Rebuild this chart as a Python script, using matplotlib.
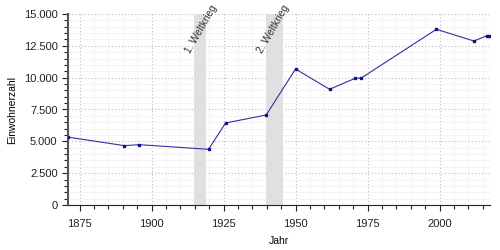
import matplotlib.pyplot as plt
from matplotlib.ticker import MultipleLocator, FuncFormatter

plt.rcParams['font.family'] = ['Liberation Sans', 'DejaVu Sans']

# Stichtage als Dezimaljahre
jahre = [1871.0, 1890.6, 1895.6, 1919.8, 1925.7, 1939.8, 1950.0, 1961.8,
         1970.7, 1972.8, 1998.9, 2011.9, 2016.3, 2017.2]
einwohner = [5330, 4660, 4740, 4375, 6440, 7070, 10680, 9090,
             9950, 9970, 13800, 12880, 13280, 13250]

kriege = [(1914.8, 1918.9, "1. Weltkrieg"), (1939.8, 1945.5, "2. Weltkrieg")]

fig = plt.figure(figsize=(5, 2.5), dpi=100)
ax = fig.add_axes([0.136, 0.18, 0.844, 0.764])

for a, b, name in kriege:
    ax.axvspan(a, b, color='#e0e0e0', lw=0, zorder=1)
    ax.text(a - 0.8, 11800, name, rotation=60, fontsize=7.4, color='#333333',
            ha='left', va='bottom', rotation_mode='anchor', clip_on=False)

ax.plot(jahre, einwohner, color='#3030a0', lw=0.8, marker='s', ms=2,
        markerfacecolor='#10108a', markeredgecolor='#10108a', zorder=3)

ax.set_xlim(1871, 2017.5)
ax.set_ylim(0, 15000)
ax.xaxis.set_major_locator(MultipleLocator(25))
ax.xaxis.set_minor_locator(MultipleLocator(5))
ax.yaxis.set_major_locator(MultipleLocator(2500))
ax.yaxis.set_minor_locator(MultipleLocator(500))
ax.yaxis.set_major_formatter(FuncFormatter(lambda v, p: f"{int(v):,}".replace(",", ".")))

ax.set_axisbelow(True)
ax.grid(which='major', color='#bbbbbb', ls=(0, (1, 2)), lw=0.8)
ax.grid(which='minor', color='#f2f2f2', ls='-', lw=0.6)

for s in ['top', 'right']:
    ax.spines[s].set_visible(False)
ax.spines['left'].set_color('#555555')
ax.spines['left'].set_linewidth(1.5)
ax.spines['bottom'].set_color('#222222')
ax.tick_params(which='both', labelsize=8, colors='#222222', width=0.8)
ax.tick_params(which='major', length=4)
ax.tick_params(which='minor', length=3)
ax.tick_params(axis='x', pad=6)

ax.set_xlabel("Jahr", fontsize=7.5)
ax.set_ylabel("Einwohnerzahl", fontsize=7.5)
ax.xaxis.set_label_coords(0.5, -0.16)
ax.yaxis.set_label_coords(-0.12, 0.5)

fig.savefig("out.png", dpi=100)
